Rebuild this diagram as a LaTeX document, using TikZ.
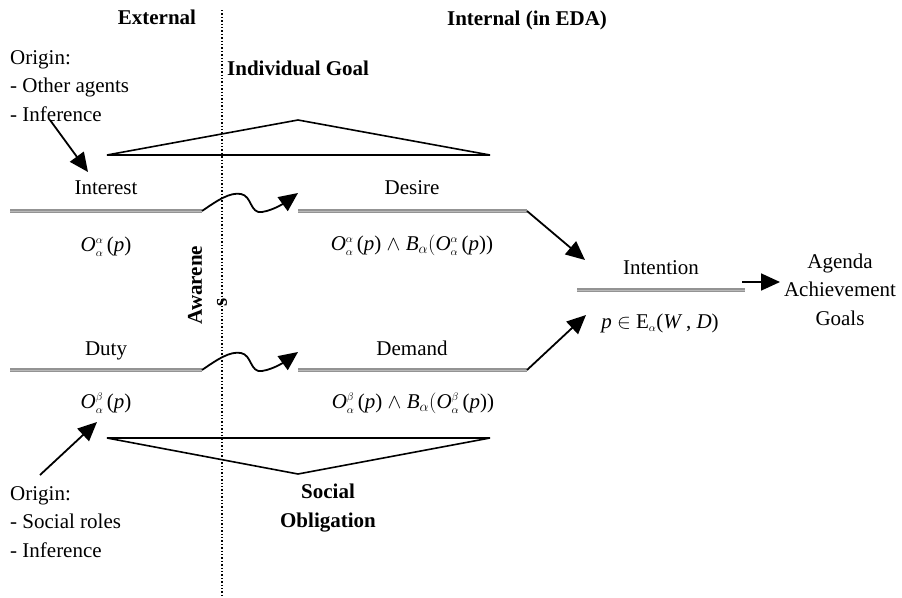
\documentclass[tikz,border=0pt]{standalone}
\usepackage{fontspec}
\setmainfont{Liberation Serif}
\usetikzlibrary{arrows.meta}
\newcommand\Oform[1]{\textit{O}$^{\scriptscriptstyle #1}_{\scriptscriptstyle\alpha}$\,(\textit{p})}
\newcommand\Dform[1]{\Oform{#1} $\wedge$ \textit{B}$_{\alpha}$$\bigl($\Oform{#1})}
\begin{document}
\begin{tikzpicture}[x=1pt,y=-1pt,
  txt/.style={font=\fontsize{21}{28.5}\selectfont, inner sep=0pt},
  bld/.style={txt, font=\fontsize{21}{28.5}\selectfont\bfseries},
  rail/.style={draw=gray!85, line width=4pt},
  railhi/.style={draw=gray!55, line width=1.2pt},
  arr/.style={draw=black, line width=1.8pt, -{Triangle[length=19pt,width=17pt]}},
  tri/.style={draw=black, line width=1.6pt, line join=miter}]
\useasboundingbox (0,0) rectangle (902,597);

% headings
\node[bld, anchor=base] (ext) at (157,24) {External};
\node[bld, anchor=base] (int) at (527,25) {Internal (in EDA)};
\node[bld, anchor=base west] (indgoal) at (227,75) {Individual Goal};

% dotted separator
\coordinate (sepT) at (222,10);
\coordinate (sepB) at (222,597);
\draw[dotted, line width=1.4pt] (sepT) -- (sepB);

% origin texts (anchor base = last line)
\node[txt, anchor=base west, align=left] (orig1) at (10,121) {Origin:\\- Other agents\\- Inference};
\node[txt, anchor=base west, align=left] (orig2) at (10,557) {Origin:\\- Social roles\\- Inference};

% triangles
\coordinate (t1a) at (107,155); \coordinate (t1b) at (298,120); \coordinate (t1c) at (490,155);
\draw[tri] (t1a) -- (t1b) -- (t1c) -- cycle;
\coordinate (t2a) at (107,438); \coordinate (t2b) at (298,474); \coordinate (t2c) at (490,438);
\draw[tri] (t2a) -- (t2c) -- (t2b) -- cycle;

% labels
\node[txt, anchor=base] (interest) at (106,194) {Interest};
\node[txt, anchor=base] (desire) at (412,194) {Desire};
\node[txt, anchor=base] (duty) at (106,355) {Duty};
\node[txt, anchor=base] (demand) at (412,355) {Demand};
\node[txt, anchor=base] (intention) at (661,274) {Intention};
\node[txt, anchor=base, align=center] (agenda) at (840,325) {Agenda\\Achievement\\Goals};
\node[bld, anchor=base, align=center] (social) at (328,527) {Social\\Obligation};

% formulas
\node[txt, anchor=base] (fint) at (106,251) {\Oform{\alpha}};
\node[txt, anchor=base] (fdes) at (412,250) {\Dform{\alpha}};
\node[txt, anchor=base] (fduty) at (106,408) {\Oform{\beta}};
\node[txt, anchor=base] (fdem) at (413,408) {\Dform{\beta}};
\node[txt, anchor=base] (fintn) at (660,328) {\textit{p} $\in$ E$_{\scriptscriptstyle\alpha}$(\textit{W}\,, \textit{D})};

% awareness
\node[bld, rotate=90] (aw1) at (195,285) {Awarene};
\node[bld, rotate=90] (aw2) at (222,302) {s};

% rails
\coordinate (r1a) at (10,211); \coordinate (r1b) at (202,211);
\coordinate (r2a) at (298,211); \coordinate (r2b) at (527,211);
\coordinate (r3a) at (10,370); \coordinate (r3b) at (202,370);
\coordinate (r4a) at (298,370); \coordinate (r4b) at (527,370);
\coordinate (r5a) at (577,290); \coordinate (r5b) at (745,290);
\foreach \a/\b in {r1a/r1b, r2a/r2b, r3a/r3b, r4a/r4b, r5a/r5b}{
  \draw[rail] (\a) -- (\b);
  \draw[railhi] ([yshift=-0.8pt]\a) -- ([yshift=-0.8pt]\b);
}

% arrows
\coordinate (o1s) at (50,120); \coordinate (o1e) at (88,172);
\draw[arr] (o1s) -- (o1e);
\coordinate (o2s) at (40,475); \coordinate (o2e) at (97,422);
\draw[arr] (o2s) -- (o2e);

\coordinate (w1e) at (298,193);
\draw[arr] (r1b) .. controls (218,200) and (230,192) .. (241,194)
  .. controls (252,196) and (250,214) .. (262,212)
  .. controls (275,210) and (287,201) .. (w1e);
\coordinate (w2e) at (298,352);
\draw[arr] (r3b) .. controls (218,359) and (230,351) .. (241,353)
  .. controls (252,355) and (250,373) .. (262,371)
  .. controls (275,369) and (287,360) .. (w2e);

\coordinate (di1) at (585,260);
\draw[arr] (r2b) -- (di1);
\coordinate (di2) at (586,315);
\draw[arr] (r4b) -- (di2);

\coordinate (ag1) at (742,282); \coordinate (ag2) at (780,282);
\draw[arr] (ag1) -- (ag2);
\end{tikzpicture}
\end{document}
